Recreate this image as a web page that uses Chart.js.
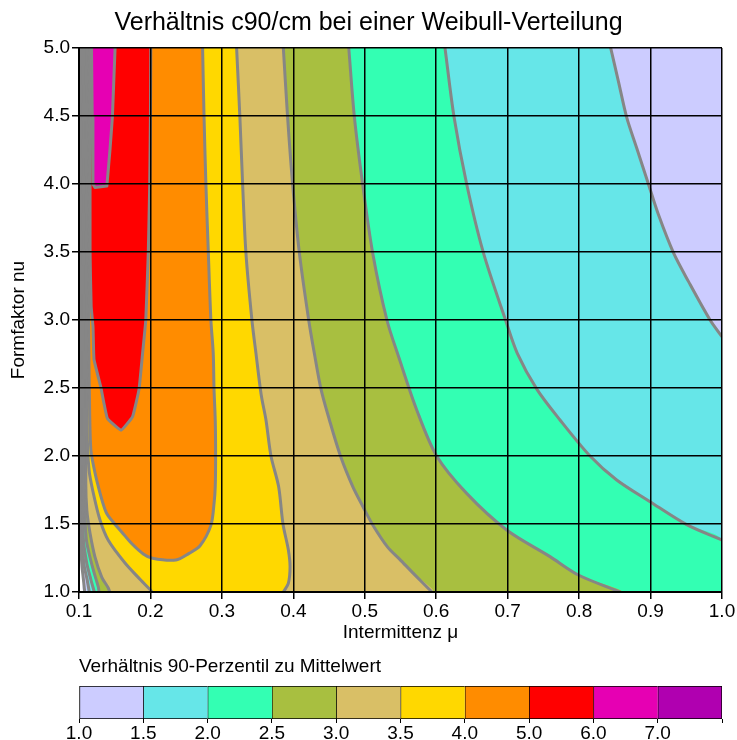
<!DOCTYPE html>
<html><head><meta charset="utf-8">
<script src="https://cdn.jsdelivr.net/npm/chart.js@4.4.1/dist/chart.umd.min.js"></script>
<style>
html,body{margin:0;padding:0;background:#fff;overflow:hidden;width:737px;height:740px}
#main{position:absolute;left:0;top:0}
#bar{position:absolute;left:0;top:650px}
</style></head><body>
<canvas id="main" width="737" height="650"></canvas>
<canvas id="bar" width="737" height="92"></canvas>
<script>
// ---------- data ----------
const chartTitle = 'Verhältnis c90/cm bei einer Weibull-Verteilung';
const xTitle = 'Intermittenz μ';
const yTitle = 'Formfaktor nu';
const colorbarTitle = 'Verhältnis 90-Perzentil zu Mittelwert';

const xTicks = [0.1,0.2,0.3,0.4,0.5,0.6,0.7,0.8,0.9,1.0];
const xTickLabels = ['0.1','0.2','0.3','0.4','0.5','0.6','0.7','0.8','0.9','1.0'];
const yTicks = [1.0,1.5,2.0,2.5,3.0,3.5,4.0,4.5,5.0];
const yTickLabels = ['1.0','1.5','2.0','2.5','3.0','3.5','4.0','4.5','5.0'];

const contourLevels = [1.0,1.5,2.0,2.5,3.0,3.5,4.0,5.0,6.0];
const bandColors = ['#CCCCFF','#66E6E8','#33FFB3','#A8BF40','#D9BF66','#FFD800','#FF8C00','#FF0000','#E600B3','#B000B0'];
const colorbarLabels = ['1.0','1.5','2.0','2.5','3.0','3.5','4.0','5.0','6.0','7.0',''];

// contour lines, points [mu, nu]
const c10Left = [[0.1015,5.0],[0.1015,1.8],[0.102,1.4],[0.104,1.2],[0.106,1.1],[0.108,1.0]];
const c15Left = [[0.1035,5.0],[0.1035,1.8],[0.104,1.4],[0.107,1.2],[0.111,1.1],[0.1145,1.0]];
const c15Right = [[0.8442,5.0],[0.855,4.755],[0.8666,4.49],[0.8806,4.265],[0.897,4.0],[0.911,3.775],[0.932,3.495],[0.953,3.284],[0.9833,3.0],[1.0,2.877]];
const c20Left = [[0.1055,5.0],[0.1055,1.8],[0.106,1.4],[0.1108,1.213],[0.1168,1.088],[0.1215,1.0]];
const c20Right = [[0.6123,5.0],[0.625,4.49],[0.6426,4.0],[0.666,3.495],[0.697,3.0],[0.7135,2.755],[0.741,2.49],[0.7733,2.265],[0.8153,2.0],[0.8526,1.824],[0.8993,1.664],[0.9506,1.495],[1.0,1.382]];
const c25Left = [[0.1075,5.0],[0.1075,1.8],[0.108,1.6],[0.110,1.4],[0.113,1.309],[0.12,1.162],[0.127,1.037],[0.128,1.0]];
const c25Right = [[0.4776,5.0],[0.4855,4.49],[0.497,4.0],[0.511,3.495],[0.531,3.0],[0.548,2.72],[0.5726,2.34],[0.6006,2.0],[0.6426,1.725],[0.6986,1.456],[0.7593,1.26],[0.799,1.125],[0.8573,1.0]];
const c30Left = [[0.1095,5.0],[0.1095,1.8],[0.111,1.6],[0.1154,1.434],[0.1224,1.257],[0.1318,1.11],[0.141,1.029],[0.143,1.0]];
const c30Right = [[0.386,5.0],[0.392,4.49],[0.399,4.0],[0.4084,3.495],[0.4215,3.0],[0.4294,2.755],[0.4388,2.49],[0.4505,2.265],[0.466,2.0],[0.4832,1.775],[0.4975,1.627],[0.511,1.495],[0.532,1.33],[0.549,1.24],[0.568,1.137],[0.594,1.0]];
const c35Left = [[0.1115,5.0],[0.1115,2.2],[0.114,1.9],[0.120,1.728],[0.1294,1.529],[0.141,1.38],[0.1644,1.213],[0.1864,1.088],[0.2,1.015],[0.202,1.0]];
const c35Right = [[0.3206,5.0],[0.3252,4.49],[0.329,4.0],[0.3336,3.495],[0.342,3.0],[0.3477,2.755],[0.355,2.45],[0.3617,2.265],[0.3687,2.0],[0.3794,1.775],[0.3855,1.5],[0.393,1.31],[0.3954,1.186],[0.393,1.064],[0.386,1.0]];
const c40Loop = [[0.1135,5.0],[0.1135,3.0],[0.115,2.3],[0.1165,2.05],[0.1187,1.97],[0.1258,1.8],[0.138,1.585],[0.150,1.5],[0.160,1.44],[0.173,1.36],[0.19,1.28],[0.2028,1.248],[0.2355,1.235],[0.254,1.284],[0.2694,1.34],[0.2846,1.49],[0.289,1.65],[0.2907,1.775],[0.2912,2.0],[0.2907,2.265],[0.289,2.49],[0.2879,2.755],[0.2846,3.0],[0.281,3.5],[0.2776,4.0],[0.275,4.5],[0.273,5.0]];
const c50Loop = [[0.1155,5.0],[0.1155,3.5],[0.117,3.1],[0.1196,2.95],[0.121,2.71],[0.1304,2.51],[0.1397,2.277],[0.159,2.19],[0.175,2.29],[0.184,2.49],[0.189,2.755],[0.1935,3.0],[0.197,3.5],[0.199,4.0],[0.2,4.5],[0.2005,5.0]];
const c60Loop = [[0.1175,5.0],[0.1185,4.5],[0.1195,4.0],[0.1224,3.975],[0.139,3.985],[0.1435,4.26],[0.1467,4.49],[0.1505,5.0]];

// ---------- chart ----------
Chart.defaults.font.family = "'Liberation Sans', Arial, Helvetica, sans-serif";
Chart.defaults.color = '#000';
const lineColor = '#868686';

const contours = [
  {left: c10Left, right: null, tension: 0.3},
  {left: c15Left, right: c15Right, tension: 0.3},
  {left: c20Left, right: c20Right, tension: 0.3},
  {left: c25Left, right: c25Right, tension: 0.3},
  {left: c30Left, right: c30Right, tension: 0.3},
  {left: c35Left, right: c35Right, tension: 0.3},
  {left: c40Loop, right: [], tension: 0.3},
  {left: c50Loop, right: [], tension: 0.1},
  {left: c60Loop, right: [], tension: 0}
];
const toXY = a => a.map(p => ({x: p[0], y: p[1]}));
// region where value >= level: left branch, plot-edge corners (doubled so they stay sharp), right branch reversed
function region(left, right) {
  const pts = left.slice();
  if (!right) { pts.push([1, 1], [1, 1], [1, 5], [1, 5]); }
  else if (right.length) {
    const end = right[right.length - 1];
    if (end[0] >= 1 && end[1] > 1) pts.push([1, 1], [1, 1]);
    for (let i = right.length - 1; i >= 0; i--) pts.push(right[i]);
  }
  return pts;
}
const datasets = [];
contours.forEach((c, i) => {
  datasets.push({
    data: toXY(region(c.left, c.right)), showLine: true, fill: 'shape', tension: c.tension,
    backgroundColor: bandColors[i], borderColor: 'rgba(0,0,0,0)', borderWidth: 0,
    pointRadius: 0, order: 100 - i
  });
});
contours.forEach(c => {
  [c.left, c.right].forEach(b => {
    if (b && b.length) datasets.push({
      data: toXY(b), showLine: true, fill: false, borderColor: lineColor, borderWidth: 3, tension: c.tension,
      pointRadius: 0, order: 1, borderJoinStyle: 'round', borderCapStyle: 'round'
    });
  });
});

const gridOpts = {color: '#000', lineWidth: 1.5, tickLength: 7, tickColor: '#000', tickWidth: 1.5, z: 1};

new Chart(document.getElementById('main'), {
  type: 'scatter',
  data: {datasets},
  options: {
    responsive: false, animation: false, events: [],
    layout: {padding: 0},
    plugins: {
      legend: {display: false}, tooltip: {enabled: false},
      title: {display: true, text: chartTitle, color: '#000',
        font: {size: 25, weight: 'normal'}, padding: {top: 8, bottom: 10}}
    },
    scales: {
      x: {
        type: 'linear', position: 'bottom', min: 0.1, max: 1.0,
        afterBuildTicks: s => { s.ticks = xTicks.map(v => ({value: v})); },
        afterFit: s => { s.height = 58; },
        ticks: {callback: (v, i) => xTickLabels[i], font: {size: 19}, padding: 1, maxRotation: 0, autoSkip: false, color: '#000'},
        grid: gridOpts,
        border: {display: true, color: '#000', width: 2, z: 1},
        title: {display: true, text: xTitle, color: '#000', font: {size: 19}, padding: {top: 0, bottom: 5.6}}
      },
      y: {
        type: 'linear', position: 'left', min: 1, max: 5,
        afterBuildTicks: s => { s.ticks = yTicks.map(v => ({value: v})); },
        afterFit: s => { s.width = 79; },
        ticks: {callback: (v, i) => yTickLabels[i], font: {size: 19}, padding: 2, autoSkip: false, color: '#000'},
        grid: gridOpts,
        border: {display: true, color: '#000', width: 2, z: 1},
        title: {display: true, text: yTitle, color: '#000', font: {size: 19}, padding: {top: 7, bottom: 0}}
      },
      y2: {
        type: 'linear', position: 'right', display: true,
        grid: {display: false}, ticks: {display: false}, border: {display: false},
        afterFit: s => { s.width = 15; }
      }
    }
  }
});

new Chart(document.getElementById('bar'), {
  type: 'bar',
  data: {
    labels: [''],
    datasets: bandColors.map((c, i) => ({
      data: [[i, i + 1]], backgroundColor: c, borderColor: '#000',
      borderWidth: {top: 1, bottom: 1, left: 1, right: i === bandColors.length - 1 ? 1 : 0},
      borderSkipped: false, barPercentage: 1, categoryPercentage: 1, grouped: false
    }))
  },
  options: {
    indexAxis: 'y', responsive: false, animation: false, events: [],
    layout: {padding: {left: 79, right: 15, top: 0, bottom: 0}},
    plugins: {
      legend: {display: false}, tooltip: {enabled: false},
      title: {display: true, text: colorbarTitle, align: 'start', color: '#000',
        font: {size: 19, weight: 'normal'}, padding: {top: 5.6, bottom: 7.6}}
    },
    scales: {
      x: {
        type: 'linear', min: 0, max: 10,
        afterBuildTicks: s => { s.ticks = colorbarLabels.map((l, i) => ({value: i})); },
        afterFit: s => { s.height = 23; },
        ticks: {callback: (v, i) => colorbarLabels[i], font: {size: 19}, padding: -1, autoSkip: false, maxRotation: 0, color: '#000'},
        grid: {drawOnChartArea: false, tickLength: 4, color: '#000'},
        border: {display: false}
      },
      y: {display: false}
    }
  }
});
</script>
</body></html>
